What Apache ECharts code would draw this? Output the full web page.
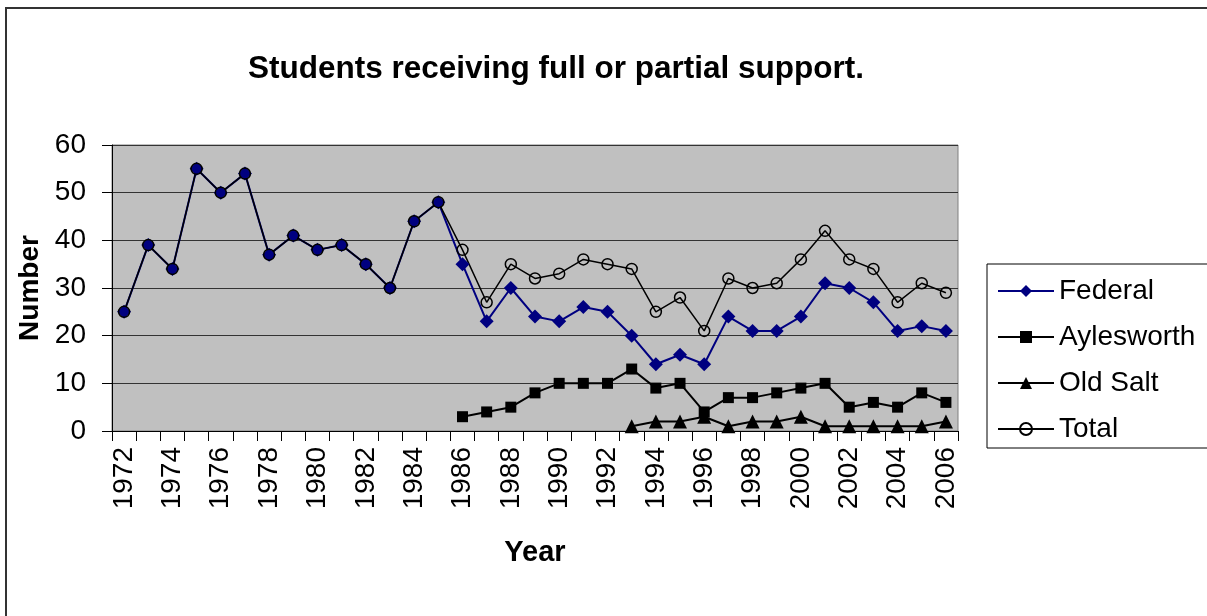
<!DOCTYPE html>
<html>
<head>
<meta charset="utf-8">
<script src="https://cdn.jsdelivr.net/npm/echarts@6/dist/echarts.min.js"></script>
<style>
html,body{margin:0;padding:0;background:#fff;}
#chart{width:1207px;height:616px;}
</style>
</head>
<body>
<div id="chart"></div>
<script>
var years = ['1972','1973','1974','1975','1976','1977','1978','1979','1980','1981','1982','1983','1984','1985','1986','1987','1988','1989','1990','1991','1992','1993','1994','1995','1996','1997','1998','1999','2000','2001','2002','2003','2004','2005','2006'];
var federal = [25,39,34,55,50,54,37,41,38,39,35,30,44,48,35,23,30,24,23,26,25,20,14,16,14,24,21,21,24,31,30,27,21,22,21];
var aylesworth = [null,null,null,null,null,null,null,null,null,null,null,null,null,null,3,4,5,8,10,10,10,13,9,10,4,7,7,8,9,10,5,6,5,8,6];
var oldSalt = [null,null,null,null,null,null,null,null,null,null,null,null,null,null,null,null,null,null,null,null,null,1,2,2,3,1,2,2,3,1,1,1,1,1,2];
var total = [25,39,34,55,50,54,37,41,38,39,35,30,44,48,38,27,35,32,33,36,35,34,25,28,21,32,30,31,36,42,36,34,27,31,29];
var yTicks = [0,10,20,30,40,50,60];

var FONT = '"Liberation Sans", Arial, sans-serif';
var chart = echarts.init(document.getElementById('chart'));
chart.setOption({
  animation: false,
  backgroundColor: '#fff',
  textStyle: { fontFamily: FONT, color: '#000' },
  graphic: [
    { type: 'rect', shape: { x: 6, y: 8, width: 1220, height: 630 }, style: { fill: 'none', stroke: '#333', lineWidth: 2 }, z: -1 },
    { type: 'text', style: { x: 556, y: 69, text: 'Students receiving full or partial support.', textAlign: 'center', textVerticalAlign: 'middle', font: 'bold 31.5px ' + FONT, fill: '#000' } },
    { type: 'rect', shape: { x: 987, y: 264, width: 240, height: 184 }, style: { fill: '#fff', stroke: '#000', lineWidth: 1 }, z: 0 }
  ],
  grid: { left: 112, right: 249, top: 145, bottom: 185, containLabel: false, outerBoundsMode: 'none',
    show: true, backgroundColor: '#c0c0c0', borderColor: '#808080', borderWidth: 1 },
  legend: {
    orient: 'vertical', left: 997, top: 268, itemGap: 0, padding: 0,
    itemWidth: 56, itemHeight: 15,
    textStyle: { fontSize: 28, lineHeight: 46, fontFamily: FONT, color: '#000' },
    data: ['Federal', 'Aylesworth', 'Old Salt', 'Total'],
    z: 10
  },
  xAxis: {
    type: 'category', data: years, boundaryGap: true,
    name: 'Year', nameLocation: 'middle', nameGap: 107,
    nameTextStyle: { fontSize: 29, fontWeight: 'bold', fontFamily: FONT, color: '#000' },
    axisLine: { lineStyle: { color: '#000', width: 1 } },
    axisTick: { show: true, interval: 0, length: 10, alignWithLabel: false, lineStyle: { color: '#000' } },
    axisLabel: { interval: 1, rotate: 90, margin: 16, fontSize: 28, fontFamily: FONT, color: '#000' },
    splitLine: { show: false }
  },
  yAxis: {
    type: 'value', min: 0, max: 60, interval: 10,
    name: 'Number', nameLocation: 'middle', nameGap: 64, nameRotate: 90,
    nameTextStyle: { fontSize: 28, fontWeight: 'bold', fontFamily: FONT, color: '#000' },
    axisLine: { show: true, lineStyle: { color: '#000', width: 1 } },
    axisTick: { show: true, length: 10, lineStyle: { color: '#000' } },
    axisLabel: { margin: 26, fontSize: 28, fontFamily: FONT, color: '#000',
      formatter: function (v) { return yTicks.indexOf(v) >= 0 ? String(v) : ''; } },
    splitLine: { show: true, lineStyle: { color: '#333', width: 1 } }
  },
  series: [
    { name: 'Federal', type: 'line', data: federal, symbol: 'diamond', symbolSize: 14,
      itemStyle: { color: '#000080' }, lineStyle: { color: '#000080', width: 2 } },
    { name: 'Aylesworth', type: 'line', data: aylesworth, symbol: 'rect', symbolSize: 11,
      itemStyle: { color: '#000' }, lineStyle: { color: '#000', width: 2 } },
    { name: 'Old Salt', type: 'line', data: oldSalt, symbol: 'triangle', symbolSize: 14,
      itemStyle: { color: '#000' }, lineStyle: { color: '#000', width: 2 } },
    { name: 'Total', type: 'line', data: total, symbol: 'circle', symbolSize: 11,
      itemStyle: { color: 'rgba(0,0,0,0)', borderColor: '#000', borderWidth: 1.5 },
      lineStyle: { color: '#000', width: 1.5 } }
  ]
});
</script>
</body>
</html>
